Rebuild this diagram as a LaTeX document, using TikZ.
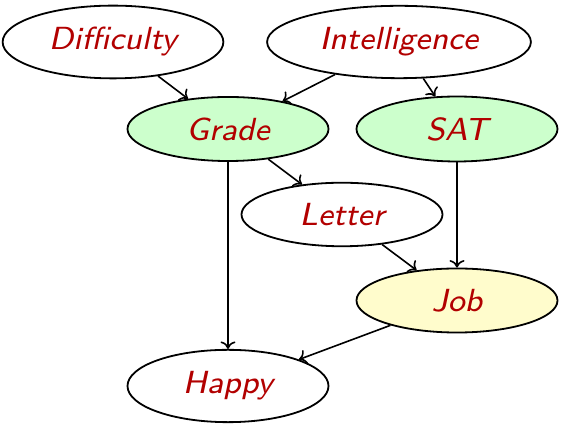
\documentclass[tikz,border=0pt]{standalone}
\usepackage{fontspec}
\newfontfamily\lmsansobl{lmsans8-oblique.otf}
\usetikzlibrary{shapes.geometric,arrows.meta}
\begin{document}
\begin{tikzpicture}[x=1pt,y=1pt,
  var/.style={ellipse, draw=black, line width=1.8pt, fill=white,
    inner xsep=14pt, inner ysep=11.2pt, minimum width=201pt, minimum height=63pt,
    font=\fontsize{32}{36}\lmsansobl, text=red!70!black},
  obs/.style={var, fill=green!20},
  job/.style={var, fill=yellow!20},
  edge/.style={line width=1.6pt, -{To[length=7.5pt,width=15pt]}}]
\useasboundingbox (0,0) rectangle (563,428);
\node[var] (dif) at (113,386) {Difficulty};
\node[var] (int) at (399,386) {Intelligence};
\node[obs] (gra) at (228,299) {Grade};
\node[obs] (sat) at (457,299) {SAT};
\node[var] (let) at (342,213.5) {Letter};
\node[job] (job) at (457,127.5) {Job};
\node[var] (hap) at (228,42) {Happy};
\draw[edge] (dif) -- (gra);
\draw[edge] (int) -- (gra);
\draw[edge] (int) -- (sat);
\draw[edge] (gra) -- (let);
\draw[edge] (gra) -- (hap);
\draw[edge] (sat) -- (job);
\draw[edge] (let) -- (job);
\draw[edge] (job) -- (hap);
\end{tikzpicture}
\end{document}
